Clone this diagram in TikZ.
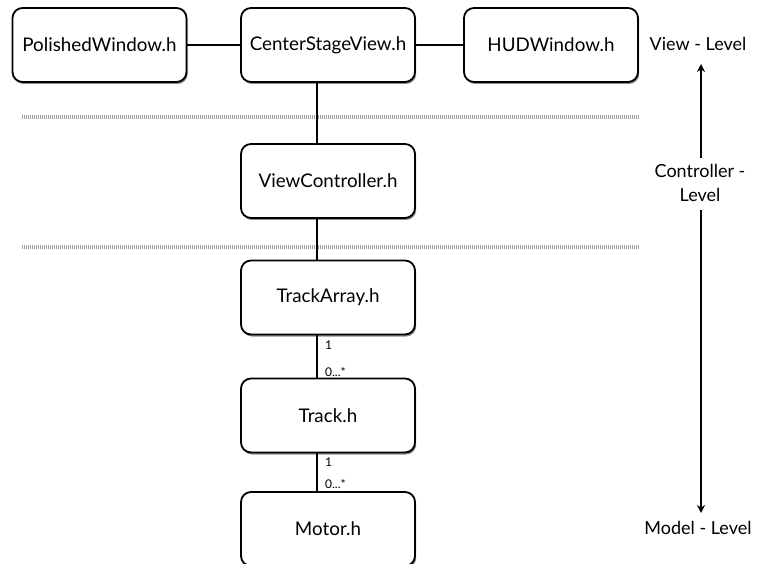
\documentclass[tikz,border=0pt]{standalone}
\usepackage{fontspec}
\setmainfont{Lato}
\usetikzlibrary{shadows,arrows.meta}
\begin{document}
\begin{tikzpicture}[x=1pt,y=-1pt,
  classbox/.style={draw=black, fill=white, line width=1.8pt, rounded corners=10pt,
    minimum width=174pt, minimum height=74pt, font=\fontsize{18.8}{21}\selectfont,
    drop shadow={shadow xshift=1.2pt, shadow yshift=-2pt, opacity=0.45, fill=black}},
  link/.style={draw=black, line width=1.8pt},
  layerline/.style={draw=gray!75, line width=4pt, dash pattern=on 1pt off 1pt},
  levelarrow/.style={draw=black, line width=2pt, -{Stealth[length=8pt,width=8pt]}},
  leveltext/.style={font=\fontsize{18}{24}\selectfont, align=center},
  mult/.style={font=\fontsize{12}{13}\selectfont, anchor=west, inner sep=0pt}]
  \useasboundingbox (0,0) rectangle (758,564);

  % layer separators
  \draw[layerline] (22,117) -- (640,117);
  \draw[layerline] (22,247) -- (640,247);

  % classes
  \node[classbox] (pw)  at (99.5,45)  {PolishedWindow.h};
  \node[classbox] (cs)  at (328,45)   {CenterStageView.h};
  \node[classbox] (hud) at (551,45)   {HUDWindow.h};
  \node[classbox] (vc)  at (328,181)  {ViewController.h};
  \node[classbox] (ta)  at (328,297.5){TrackArray.h};
  \node[classbox] (tr)  at (328,415.5){Track.h};
  \node[classbox] (mo)  at (328,529)  {Motor.h};

  % associations
  \draw[link] (pw.east) -- (cs.west);
  \draw[link] (cs.east) -- (hud.west);
  \draw[link] ([xshift=-11pt]cs.south) -- ([xshift=-11pt]vc.north);
  \draw[link] ([xshift=-11pt]vc.south) -- ([xshift=-11pt]ta.north);
  \draw[link] ([xshift=-11pt]ta.south) -- ([xshift=-11pt]tr.north);
  \draw[link] ([xshift=-11pt]tr.south) -- ([xshift=-11pt]mo.north);

  % multiplicities
  \node[mult] (m1a) at (325,345) {1};
  \node[mult] (m1b) at (325,372) {0...*};
  \node[mult] (m2a) at (325,462) {1};
  \node[mult] (m2b) at (325,484) {0...*};

  % level axis
  \node[leveltext] (lv) at (698,44)  {View - Level};
  \node[leveltext] (lc) at (700,183) {Controller -\\Level};
  \node[leveltext] (lm) at (698,528) {Model - Level};
  \draw[levelarrow] (701,158) -- (701,64);
  \draw[levelarrow] (701,210) -- (701,513);
\end{tikzpicture}
\end{document}
